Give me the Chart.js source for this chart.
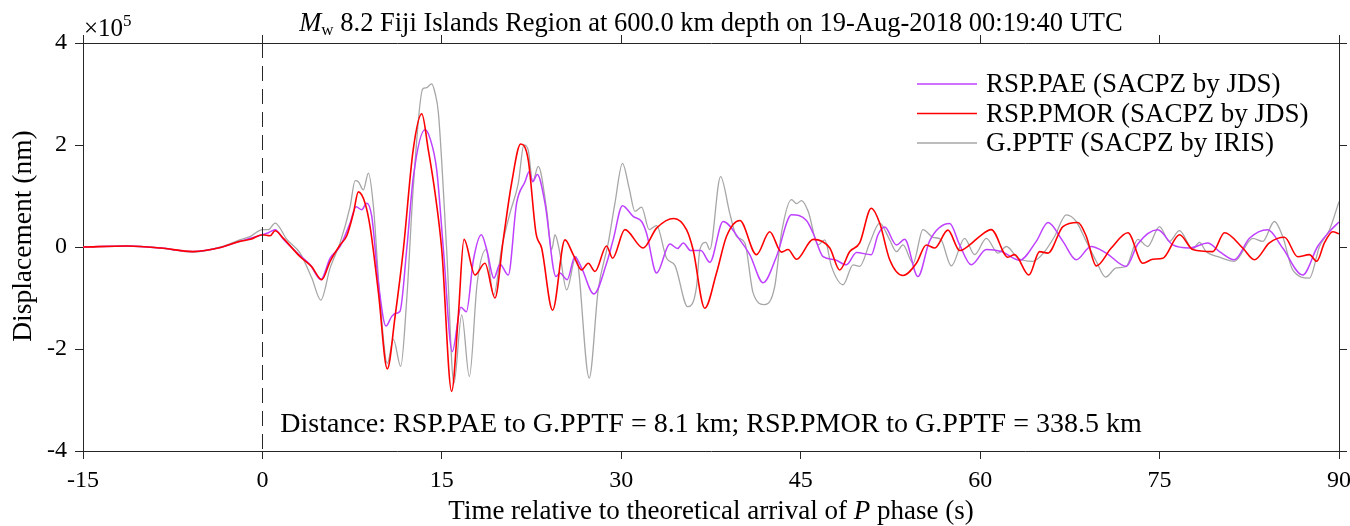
<!DOCTYPE html>
<html>
<head>
<meta charset="utf-8">
<script src="https://cdn.jsdelivr.net/npm/chart.js@4.4.1/dist/chart.umd.min.js"></script>
<style>
  body { margin: 0; background: #fff; }
  #wrap { width: 1350px; height: 526px; }
</style>
</head>
<body>
<div id="wrap"><canvas id="myChart" width="1350" height="526"></canvas></div>
<script>
// displacement values are in units of 1e5 nm (axis shows x10^5)
let xTicks = [-15, 0, 15, 30, 45, 60, 75, 90];
let yTicks = [-4, -2, 0, 2, 4];

let names = ['RSP.PAE (SACPZ by JDS)', 'RSP.PMOR (SACPZ by JDS)', 'G.PPTF (SACPZ by IRIS)'];

// RSP.PAE (purple)
let paeT = [-15, -11.3, -8.5, -5.8, -3.5, -1.9, -1.0, 0, 0.5, 1.06, 1.75, 3.15, 3.99, 4.88, 5.66, 6.49, 7.33, 7.83, 8.3, 8.72,
  9.14, 9.7, 10.33, 10.81, 11.17, 11.5, 12.06, 12.62, 13.59, 14.01, 14.57, 15.13, 15.87, 16.6, 17.05, 17.64, 18.3, 18.75, 19.35, 19.86,
  20.55, 21.25, 21.95, 22.31, 22.59, 22.98, 23.62, 24.54, 24.87, 25.48, 26.12, 26.68, 27.71, 28.77, 29.32, 30.1, 30.99, 31.7, 32.11, 32.95,
  34.06, 34.7, 35.18, 35.8, 36.65, 37.4, 38.51, 39.91, 40.74, 41.86, 42.97, 44.23, 45.48, 46.04, 46.87, 47.85, 48.82, 49.66, 50.9, 51.46,
  52.02, 53.0, 53.69, 54.8, 55.78, 57.45, 58.29, 59.26, 60.52, 61.77, 63.3, 64.69, 65.67, 66.92, 68.03, 69.28, 70.54, 72.21, 73.18, 74.85,
  76.11, 77.5, 79.03, 80.01, 81.26, 82.51, 84.04, 85.29, 86.96, 88.21, 89.19, 90];
let paeV = [0, 0.02, -0.02, -0.09, -0.01, 0.11, 0.17, 0.24, 0.28, 0.34, 0.15, -0.17, -0.35, -0.64, -0.22, 0.01, 0.47, 0.79, 0.73, 0.86,
  0.6, -0.71, -1.55, -1.36, -1.3, -1.26, -0.05, 1.38, 2.30, 2.13, 1.51, -0.05, -2.05, -1.18, -1.27, -0.25, 0.24, -0.05, -0.61, -0.34,
  -0.55, 0.86, 1.28, 1.48, 1.28, 1.42, 0.86, -0.58, -0.51, -0.64, -0.19, -0.41, -0.92, -0.32, 0.14, 0.81, 0.6, 0.5, 0.27, -0.51,
  0.06, -0.03, 0.08, -0.07, -0.07, -0.3, 0.5, 0.14, -0.15, -0.7, -0.19, 0.63, 0.52, 0.27, -0.19, -0.25, -0.35, -0.11, -0.15, 0.24,
  0.39, 0.04, 0.15, -0.58, 0.12, 0.46, 0.04, -0.35, -0.05, -0.09, -0.26, 0.11, 0.48, 0.11, -0.25, 0.01, -0.12, -0.38, 0.06, 0.34,
  0.04, -0.02, 0.08, -0.09, -0.25, 0.17, 0.34, -0.02, -0.55, 0.01, 0.30, 0.49];

// RSP.PMOR (red)
let pmorT = [-15, -11.3, -8.5, -5.8, -3.5, -1.9, -1.0, 0, 0.64, 1.06, 1.75, 3.15, 4.13, 4.96, 5.66, 6.49, 7.05, 7.6, 8.02, 8.58,
  9.0, 9.7, 10.44, 11.09, 11.78, 12.6, 13.32, 13.87, 14.43, 14.99, 15.82, 16.37, 16.85, 17.77, 18.6, 19.44, 20.13, 20.83, 21.59, 22.22,
  22.87, 23.34, 24.26, 25.29, 25.98, 26.68, 27.24, 27.8, 28.77, 29.27, 30.3, 31.83, 32.95, 34.4, 35.45, 36.0, 36.98, 37.96, 38.8, 39.91,
  41.3, 42.41, 43.39, 43.94, 44.65, 46.04, 47.43, 48.26, 49.1, 49.93, 50.9, 51.6, 52.44, 53.55, 54.67, 55.5, 56.2, 57.31, 58.29, 59.12,
  59.96, 60.93, 62.32, 62.88, 64.08, 64.97, 65.67, 66.92, 68.17, 68.87, 69.71, 70.96, 72.35, 73.6, 74.44, 75.27, 76.67, 77.78, 79.45, 80.43,
  81.95, 82.93, 84.18, 85.44, 86.55, 87.53, 88.14, 88.78, 89.48, 90];
let pmorV = [0, 0.02, -0.02, -0.09, -0.01, 0.11, 0.15, 0.24, 0.22, 0.32, 0.17, -0.19, -0.39, -0.64, -0.28, 0.04, 0.22, 0.66, 1.08, 0.86,
  0.40, -0.9, -2.39, -1.36, -0.05, 1.9, 2.61, 1.9, 1.06, -0.05, -2.83, -1.36, 0.15, -0.55, -0.32, -1.0, 0.14, 1.25, 2.02, 1.71,
  0.27, -0.02, -1.24, 0.14, -0.15, -0.45, -0.32, -0.48, 0.02, -0.22, 0.34, -0.02, 0.37, 0.56, 0.34, -0.05, -1.2, -0.51, 0.21, 0.52,
  -0.15, 0.30, -0.1, -0.05, -0.24, 0.15, -0.02, -0.45, -0.09, 0.08, 0.76, 0.47, -0.25, -0.56, -0.32, 0.04, -0.02, 0.33, -0.07, 0.04,
  0.21, 0.34, -0.2, -0.15, -0.55, -0.09, -0.12, 0.40, 0.48, 0.21, -0.37, -0.02, 0.28, -0.32, -0.24, -0.22, 0.24, -0.05, -0.09, 0.28,
  -0.02, -0.25, 0.08, 0.19, -0.19, -0.15, -0.28, 0.08, 0.30, 0.26];

// G.PPTF (gray)
let pptfT = [-15, -11.3, -8.5, -5.8, -3.5, -1.9, -1.0, 0, 0.5, 1.06, 2.04, 3.15, 4.13, 4.88, 5.66, 6.49, 7.33, 7.75, 8.02, 8.44,
  8.86, 9.28, 9.83, 10.44, 10.95, 11.56, 12.06, 12.62, 13.4, 13.68, 14.15, 14.43, 14.71, 15.4, 16.01, 16.66, 17.3, 17.95, 18.69, 19.33,
  20.0, 20.69, 21.39, 21.86, 22.22, 22.59, 23.06, 23.76, 24.18, 24.46, 24.81, 25.43, 26.21, 27.32, 28.07, 28.91, 29.47, 30.1, 30.66, 31.14,
  31.7, 32.33, 32.95, 33.79, 34.48, 35.55, 36.29, 36.57, 37.07, 37.4, 38.3, 39.07, 39.63, 40.33, 41.02, 42.0, 42.83, 43.39, 44.23, 44.65,
  45.07, 45.62, 46.46, 47.01, 47.57, 48.54, 49.38, 49.93, 50.77, 51.6, 52.44, 53.0, 53.55, 54.39, 55.22, 56.06, 56.7, 57.59, 58.7, 59.54,
  60.52, 61.49, 62.19, 63.16, 64.41, 65.39, 66.23, 67.2, 68.03, 68.87, 69.71, 70.48, 71.38, 72.21, 73.18, 74.01, 74.99, 75.82, 76.66, 77.78,
  78.33, 78.89, 80.01, 81.26, 82.79, 83.62, 84.6, 85.29, 86.13, 87.53, 88.37, 89.21, 90];
let pptfV = [0, 0.02, -0.02, -0.10, 0.0, 0.14, 0.21, 0.34, 0.34, 0.47, 0.15, -0.12, -0.61, -1.04, -0.41, 0.08, 0.79, 1.30, 1.28, 1.12,
  1.45, 0.79, -1.04, -2.28, -1.81, -2.34, -1.04, 1.2, 3.10, 3.12, 3.2, 3.02, 2.63, -0.05, -2.67, -1.33, -2.54, -0.71, -0.05, -0.95,
  -0.02, 0.66, 1.25, 2.0, 1.9, 1.28, 1.58, 0.73, -0.05, 0.24, -0.05, -0.84, -0.19, -2.57, -0.84, 0.08, 0.86, 1.64, 1.15, 0.7,
  0.78, 0.34, 0.42, -0.22, -0.36, -1.17, -0.78, -0.05, 0.09, -0.05, 1.38, 0.66, 0.21, 0.08, -0.9, -1.13, -0.77, 0.27, 0.93, 0.85,
  0.91, 0.7, 0.04, 0.14, -0.38, -0.74, -0.35, -0.38, 0.08, 0.47, 0.14, -0.09, 0.04, -0.32, 0.34, 0.19, 0.15, -0.37, 0.17, -0.15,
  0.17, -0.12, 0.01, -0.22, -0.28, -0.09, 0.21, 0.63, 0.5, 0.11, -0.28, -0.59, -0.41, -0.38, 0.15, 0.01, 0.4, 0.11, 0.32, -0.04,
  0.09, -0.09, -0.2, -0.28, 0.17, 0.11, 0.5, 0.21, -0.45, -0.61, 0.01, 0.34, 0.89];

let colors = ['#bf40ff', '#ff0000', '#a6a6a6'];
let axisColor = '#262626';
let serif = '"Liberation Serif", "Times New Roman", serif';

function toPoints(t, v) {
  let pts = [];
  for (let i = 0; i < t.length; i++) {
    pts.push({ x: t[i], y: v[i] });
  }
  return pts;
}

function setTicks(list) {
  return function (scale) {
    scale.ticks = list.map(function (v) { return { value: v }; });
  };
}

function f(size, italic) {
  return (italic ? 'italic ' : '') + size + 'px ' + serif;
}

// text, dashed P line, legend and annotations drawn over the chart
let extras = {
  id: 'extras',
  afterDraw(chart) {
    let ctx = chart.ctx;
    let a = chart.chartArea;
    let xs = chart.scales.x;
    let cx = (a.left + a.right) / 2;
    ctx.save();

    // dashed line at P arrival
    let x0 = Math.round(xs.getPixelForValue(0)) + 0.5;
    ctx.strokeStyle = axisColor;
    ctx.lineWidth = 1;
    ctx.setLineDash([15, 8]);
    ctx.beginPath();
    ctx.moveTo(x0, a.top);
    ctx.lineTo(x0, a.bottom);
    ctx.stroke();
    ctx.setLineDash([]);

    ctx.fillStyle = '#000';
    ctx.textBaseline = 'alphabetic';

    // title with italic M and subscript w
    let rest = ' 8.2 Fiji Islands Region at 600.0 km depth on 19-Aug-2018 00:19:40 UTC';
    ctx.font = f(26.5, true);
    let wM = ctx.measureText('M').width;
    ctx.font = f(17);
    let wW = ctx.measureText('w').width;
    ctx.font = f(26.5);
    let wR = ctx.measureText(rest).width;
    let tx = cx - (wM + wW + wR) / 2;
    let ty = 31;
    ctx.textAlign = 'left';
    ctx.font = f(26.5, true);
    ctx.fillText('M', tx, ty);
    ctx.font = f(17);
    ctx.fillText('w', tx + wM, ty + 4);
    ctx.font = f(26.5);
    ctx.fillText(rest, tx + wM + wW, ty);

    // exponent label
    ctx.font = f(25);
    ctx.fillText('\u00d710', a.left + 1, 36);
    let wE = ctx.measureText('\u00d710').width;
    ctx.font = f(17);
    ctx.fillText('5', a.left + 1 + wE, 26);

    // distance note
    ctx.font = f(28);
    ctx.textAlign = 'center';
    ctx.fillText('Distance: RSP.PAE to G.PPTF = 8.1 km; RSP.PMOR to G.PPTF = 338.5 km', cx, 432);

    // x axis title
    let lab1 = 'Time relative to theoretical arrival of ';
    let lab2 = 'P';
    let lab3 = ' phase (s)';
    ctx.font = f(27);
    let w1 = ctx.measureText(lab1).width;
    let w3 = ctx.measureText(lab3).width;
    ctx.font = f(27, true);
    let w2 = ctx.measureText(lab2).width;
    let lx = cx - (w1 + w2 + w3) / 2;
    ctx.textAlign = 'left';
    ctx.font = f(27);
    ctx.fillText(lab1, lx, 519);
    ctx.font = f(27, true);
    ctx.fillText(lab2, lx + w1, 519);
    ctx.font = f(27);
    ctx.fillText(lab3, lx + w1 + w2, 519);

    // y axis title
    ctx.save();
    ctx.translate(24, 236);
    ctx.rotate(-Math.PI / 2);
    ctx.textAlign = 'center';
    ctx.textBaseline = 'middle';
    ctx.font = f(27.5);
    ctx.fillText('Displacement (nm)', 0, 0);
    ctx.restore();

    // legend
    ctx.textAlign = 'left';
    ctx.textBaseline = 'middle';
    ctx.font = f(27);
    for (let i = 0; i < names.length; i++) {
      let ly = 84 + i * 29.5;
      ctx.strokeStyle = colors[i];
      ctx.lineWidth = i === 2 ? 1.3 : 1.5;
      ctx.beginPath();
      ctx.moveTo(917, ly);
      ctx.lineTo(977, ly);
      ctx.stroke();
      ctx.fillStyle = '#000';
      ctx.fillText(names[i], 986, ly + 1);
    }
    ctx.restore();
  }
};

let tickFont = { family: serif, size: 24 };
let gridOut = { display: true, drawOnChartArea: false, drawTicks: true, tickLength: 8, color: axisColor, lineWidth: 1 };
let borderOn = { display: true, color: axisColor, width: 1 };

let ctx = document.getElementById('myChart').getContext('2d');
let chart = new Chart(ctx, {
  type: 'line',
  data: {
    datasets: [
      { label: names[0], data: toPoints(paeT, paeV), borderColor: colors[0], borderWidth: 1.5, order: 2 },
      { label: names[1], data: toPoints(pmorT, pmorV), borderColor: colors[1], borderWidth: 1.6, order: 1 },
      { label: names[2], data: toPoints(pptfT, pptfV), borderColor: colors[2], borderWidth: 1.3, order: 3 }
    ]
  },
  options: {
    responsive: false,
    animation: false,
    devicePixelRatio: 1,
    layout: { padding: 0 },
    elements: {
      point: { radius: 0 },
      line: { cubicInterpolationMode: 'monotone', fill: false }
    },
    plugins: {
      legend: { display: false },
      title: { display: false },
      tooltip: { enabled: false }
    },
    scales: {
      x: {
        type: 'linear', position: 'bottom', min: -15, max: 90,
        afterBuildTicks: setTicks(xTicks),
        afterFit(scale) { scale.height = 75; scale.paddingLeft = 0; scale.paddingRight = 0; },
        ticks: { font: tickFont, color: '#000', padding: 7, maxRotation: 0 },
        grid: gridOut, border: borderOn
      },
      xTop: {
        type: 'linear', position: 'top', min: -15, max: 90,
        afterBuildTicks: setTicks(xTicks),
        afterFit(scale) { scale.height = 43; scale.paddingLeft = 0; scale.paddingRight = 0; },
        ticks: { display: false },
        grid: gridOut, border: borderOn
      },
      y: {
        type: 'linear', position: 'left', min: -4, max: 4,
        afterBuildTicks: setTicks(yTicks),
        afterFit(scale) { scale.width = 83; scale.paddingTop = 0; scale.paddingBottom = 0; },
        ticks: { font: tickFont, color: '#000', padding: 8 },
        grid: gridOut, border: borderOn
      },
      yRight: {
        type: 'linear', position: 'right', min: -4, max: 4,
        afterBuildTicks: setTicks(yTicks),
        afterFit(scale) { scale.width = 11; scale.paddingTop = 0; scale.paddingBottom = 0; },
        ticks: { display: false },
        grid: gridOut, border: borderOn
      }
    }
  },
  plugins: [extras]
});
</script>
</body>
</html>
